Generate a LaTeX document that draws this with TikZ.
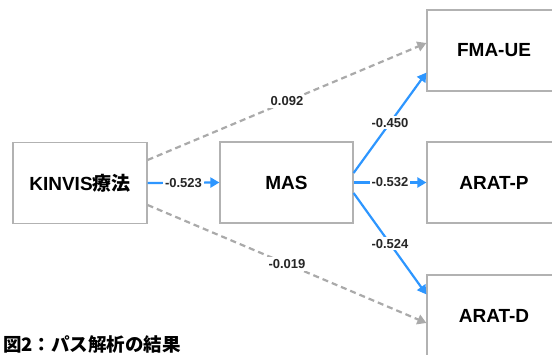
\documentclass[tikz,border=0pt]{standalone}
\usepackage{fontspec}
\setmainfont{Liberation Sans}
\newfontfamily\cjk{Noto Sans CJK JP}
\usetikzlibrary{arrows.meta,calc}
\definecolor{boxgray}{RGB}{178,178,178}
\definecolor{dashgray}{RGB}{170,170,170}
\definecolor{pathblue}{RGB}{45,150,255}
\begin{document}
\begin{tikzpicture}[x=1pt,y=1pt,
  varbox/.style={draw=boxgray,line width=1.2pt,fill=white,minimum width=134pt,minimum height=81pt,inner sep=0pt,font=\fontsize{19}{22}\selectfont\bfseries},
  sig/.style={draw=pathblue,line width=2.2pt,-{Triangle[length=9pt,width=10pt]}},
  nonsig/.style={draw=dashgray,line width=2.2pt,dash pattern=on 6pt off 4pt,-{Triangle[length=9pt,width=10pt]}},
  coef/.style={fill=white,inner sep=2pt,font=\fontsize{13}{15}\selectfont\bfseries,text=black!85}]
\useasboundingbox (0,0) rectangle (552,-355);
\fill[white] (0,0) rectangle (552,-355);
\node[varbox] (K) at (80,-183) {KINVIS{\cjk\bfseries 療法}};
\node[varbox,minimum width=133pt] (M) at (286.5,-182.5) {MAS};
\node[varbox] (F) at (494,-50.5) {FMA-UE};
\node[varbox] (P) at (494,-182.5) {ARAT-P};
\node[varbox] (D) at (494,-315.5) {ARAT-D};
\draw[sig] (K.east) -- node[coef] {-0.523} (M.west);
\draw[sig] (M.east) -- node[coef] {-0.532} (P.west);
\draw[sig] ($(M.east)+(0,9.5)$) -- node[coef] {-0.450} ($(F.south west)+(0,19)$);
\draw[sig] ($(M.east)+(0,-10.5)$) -- node[coef] {-0.524} ($(D.north west)+(0,-20)$);
\draw[nonsig] ($(K.east)+(0,23)$) -- node[coef] {0.092} ($(F.west)+(0,7.5)$);
\draw[nonsig] ($(K.east)+(0,-22)$) -- node[coef] {-0.019} ($(D.west)+(0,-7.5)$);
\node[anchor=base west,inner sep=0pt,font=\fontsize{18.5}{22}\selectfont\cjk\bfseries] (cap) at (3,-351.5) {図2：パス解析の結果};
\end{tikzpicture}
\end{document}
